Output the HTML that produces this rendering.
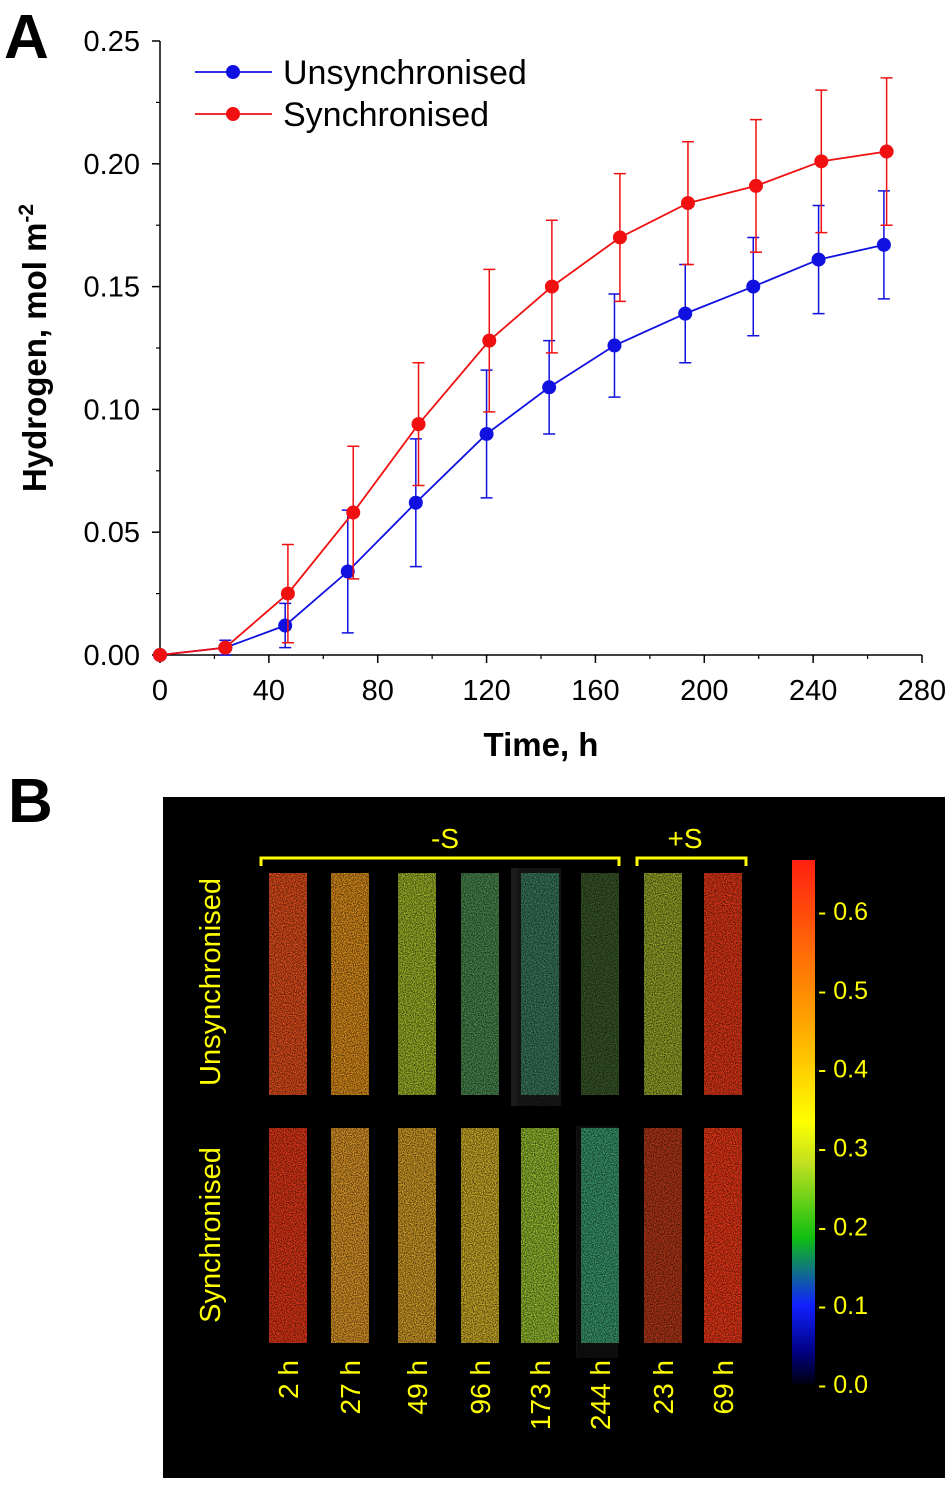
<!DOCTYPE html>
<html><head><meta charset="utf-8"><style>
body{margin:0;background:#fff;width:950px;height:1482px;overflow:hidden;font-family:"Liberation Sans","DejaVu Sans",sans-serif}
</style></head><body>
<svg width="950" height="1482" xmlns="http://www.w3.org/2000/svg">
<g id="chartA"></g>
<g id="panelB"></g>
</svg>
<script>
const times = [0,24,46,69,94,120,143,167,193,218,242,266];
const unsyncVals = [0,0.003,0.012,0.034,0.062,0.090,0.109,0.126,0.139,0.150,0.161,0.167];
const unsyncErr = [0,0.003,0.009,0.025,0.026,0.026,0.019,0.021,0.020,0.020,0.022,0.022];
const syncTimes = [0,24,47,71,95,121,144,169,194,219,243,267];
const syncVals = [0,0.003,0.025,0.058,0.094,0.128,0.150,0.170,0.184,0.191,0.201,0.205];
const syncErr = [0,0.001,0.020,0.027,0.025,0.029,0.027,0.026,0.025,0.027,0.029,0.030];
const xTicks = [0,40,80,120,160,200,240,280];
const yTicks = [0,0.05,0.10,0.15,0.20,0.25];
const yTickLabels = ["0.00","0.05","0.10","0.15","0.20","0.25"];
const stripLabels = ["2 h","27 h","49 h","96 h","173 h","244 h","23 h","69 h"];
const topColors = ["#e8501c","#e0901c","#a0b828","#4a8a50","#3a7a60","#3a5a28","#98a828","#e83818"];
const botColors = ["#e83818","#e09828","#d8a028","#d0b028","#98c030","#3a9a70","#b83818","#f03818"];
const cbTicks = [0,0.1,0.2,0.3,0.4,0.5,0.6];

const NS="http://www.w3.org/2000/svg";
function mk(parent,tag,attrs,text){const e=document.createElementNS(NS,tag);for(const k in attrs)e.setAttribute(k,attrs[k]);if(text!==undefined)e.textContent=text;parent.appendChild(e);return e;}
const X0=160,X1=922,Y0=655,Y1=41;
const xs=t=>X0+(t/280)*(X1-X0);
const ys=v=>Y0-(v/0.25)*(Y0-Y1);
const A=document.getElementById('chartA');
let el;
el=mk(A,'text',{x:4,y:58,'font-size':62,'font-weight':'bold'},'A');

el=mk(A,'path',{d:`M${X0} ${Y1}V${Y0}H${X1}`,stroke:'#000','stroke-width':1.5,fill:'none'});

xTicks.forEach((t,i)=>{
  el=mk(A,'line',{x1:xs(t),x2:xs(t),y1:Y0,y2:Y0+8,stroke:'#000','stroke-width':1.5});
  
  if(i<xTicks.length-1){el=mk(A,'line',{x1:xs(t+20),x2:xs(t+20),y1:Y0,y2:Y0+4,stroke:'#000','stroke-width':1.2});}
  el=mk(A,'text',{x:xs(t),y:Y0+45,'font-size':29,'text-anchor':'middle'},String(t));
  
});
yTicks.forEach((v,i)=>{
  el=mk(A,'line',{x1:X0-8,x2:X0,y1:ys(v),y2:ys(v),stroke:'#000','stroke-width':1.5});
  
  if(i<yTicks.length-1){el=mk(A,'line',{x1:X0-4,x2:X0,y1:ys(v+0.025),y2:ys(v+0.025),stroke:'#000','stroke-width':1.2});}
  el=mk(A,'text',{x:X0-20,y:ys(v)+10,'font-size':29,'text-anchor':'end'},yTickLabels[i]);
  
});
el=mk(A,'text',{x:541,y:756,'font-size':33,'font-weight':'bold','text-anchor':'middle'},'Time, h');

el=mk(A,'text',{transform:'translate(46,348) rotate(-90)','font-size':33,'font-weight':'bold','text-anchor':'middle'});

el.innerHTML='Hydrogen, mol m<tspan dy="-13" font-size="21">-2</tspan>';
function series(tArr,vals,errs,col,name){
  const g=mk(A,'g',{});
  el=mk(g,'polyline',{points:tArr.map((t,i)=>xs(t)+','+ys(vals[i])).join(' '),fill:'none',stroke:col,'stroke-width':1.8});
  
  tArr.forEach((t,i)=>{
    const x=xs(t),yt=ys(vals[i]+errs[i]),yb=ys(Math.max(0,vals[i]-errs[i]));
    el=mk(g,'path',{d:`M${x} ${yt}V${yb}M${x-6} ${yt}H${x+6}M${x-6} ${yb}H${x+6}`,stroke:col,'stroke-width':1.5,fill:'none'});
    
    el=mk(g,'circle',{cx:x,cy:ys(vals[i]),r:7,fill:col});
    
  });
}
series(times,unsyncVals,unsyncErr,'#1010e0','unsynchronised-series');
series(syncTimes,syncVals,syncErr,'#f01010','synchronised-series');
[['#1010e0','Unsynchronised',72],['#f01010','Synchronised',114]].forEach(([c,l,y])=>{
  const g=mk(A,'g',{});
  mk(g,'line',{x1:195,x2:272,y1:y,y2:y,stroke:c,'stroke-width':1.8});
  mk(g,'circle',{cx:233,cy:y,r:7,fill:c});
  mk(g,'text',{x:283,y:y+12,'font-size':34},l);
});
// Panel B
const B=document.getElementById('panelB');
el=mk(B,'text',{x:8,y:822,'font-size':62,'font-weight':'bold'},'B');

el=mk(B,'rect',{x:163,y:797,width:782,height:681,fill:'#000'});

const defs=mk(B,'defs',{});
defs.innerHTML='<filter id="nz"><feTurbulence type="fractalNoise" baseFrequency="0.9" numOctaves="1" seed="3"/><feColorMatrix values="0 0 0 0 0  0 0 0 0 0  0 0 0 0 0  0 0 0 -1.6 1.1"/></filter>'+
'<linearGradient id="cb" x1="0" y1="1" x2="0" y2="0"><stop offset="0" stop-color="#000010"/><stop offset="0.06" stop-color="#000080"/><stop offset="0.15" stop-color="#1020ff"/><stop offset="0.28" stop-color="#10c010"/><stop offset="0.42" stop-color="#c0e020"/><stop offset="0.5" stop-color="#ffff00"/><stop offset="0.7" stop-color="#ffa000"/><stop offset="1" stop-color="#ff2010"/></linearGradient>';
const yel='#ffff00';
el=mk(B,'rect',{x:511,y:868,width:50,height:238,fill:'#1c1c1c'});
el=mk(B,'rect',{x:576,y:1126,width:42,height:232,fill:'#121212'});
const cx=[288,350,417,480,540,600,663,723];
cx.forEach((c,i)=>{
  el=mk(B,'rect',{x:c-19,y:873,width:38,height:222,fill:topColors[i]});
  
  el=mk(B,'rect',{x:c-19,y:873,width:38,height:222,filter:'url(#nz)',fill:'#000'});
  
  el=mk(B,'rect',{x:c-19,y:1128,width:38,height:215,fill:botColors[i]});
  
  el=mk(B,'rect',{x:c-19,y:1128,width:38,height:215,filter:'url(#nz)',fill:'#000'});
  
  el=mk(B,'text',{transform:`translate(${c+10},1360) rotate(-90)`,'font-size':28,fill:yel,'text-anchor':'end'},stripLabels[i]);
  
});
el=mk(B,'path',{d:'M261 866V858H619V866M637 866V858H746V866',stroke:yel,'stroke-width':3,fill:'none'});

el=mk(B,'text',{x:445,y:848,'font-size':28,fill:yel,'text-anchor':'middle'},'-S');

el=mk(B,'text',{x:685,y:848,'font-size':28,fill:yel,'text-anchor':'middle'},'+S');

el=mk(B,'text',{transform:'translate(220,982) rotate(-90)','font-size':29,fill:yel,'text-anchor':'middle'},'Unsynchronised');

el=mk(B,'text',{transform:'translate(220,1235) rotate(-90)','font-size':29,fill:yel,'text-anchor':'middle'},'Synchronised');

el=mk(B,'rect',{x:792,y:860,width:23,height:524,fill:'url(#cb)'});

const cbY=v=>1384-(v/0.6)*(1384-911);
cbTicks.forEach(v=>{
  el=mk(B,'text',{x:818,y:cbY(v)+9,'font-size':25,fill:yel},'- '+v.toFixed(1));
  
});
</script>
</body></html>
